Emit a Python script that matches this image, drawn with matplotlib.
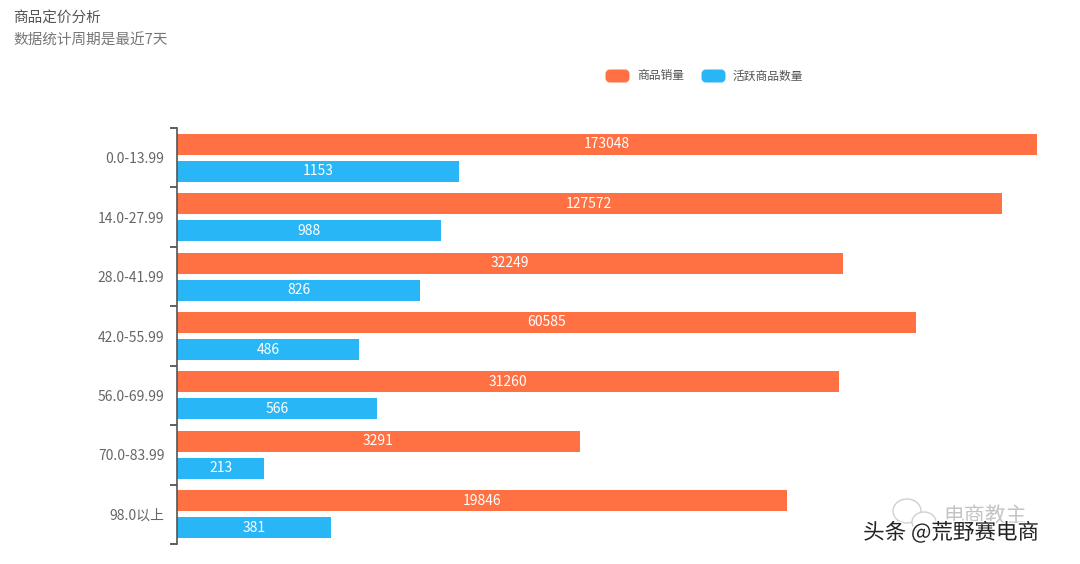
import matplotlib
matplotlib.use("Agg")
import matplotlib.pyplot as plt
import matplotlib.patheffects as pe
from matplotlib.patches import Ellipse, FancyBboxPatch, Polygon
import numpy as np

plt.rcParams['font.family'] = ['Noto Sans CJK SC', 'DejaVu Sans']

# Data
categories = ['0.0-13.99', '14.0-27.99', '28.0-41.99', '42.0-55.99',
              '56.0-69.99', '70.0-83.99', '98.0以上']
sales = [173048, 127572, 32249, 60585, 31260, 3291, 19846]
active = [1153, 988, 826, 486, 566, 213, 381]
series_names = ['商品销量', '活跃商品数量']
colors = ['#FF7043', '#29B6F6']

W, H = 1080, 564
fig = plt.figure(figsize=(W / 100, H / 100), dpi=100)
ax = fig.add_axes([177 / W, 1 - 544 / H, (1062 - 177) / W, (544 - 128) / H])

base = 100
ax.set_xscale('log')
ax.set_xlim(base, base * 10 ** ((1062 - 177) / 265.5))
ax.set_ylim(len(categories), 0)

y = np.arange(len(categories)) + 0.5
bar_h = 21 / 59.4
off = 13.5 / 59.4

for vals, pos, col in [(sales, y - off, colors[0]), (active, y + off, colors[1])]:
    ax.barh(pos, np.array(vals) - base, left=base, height=bar_h, color=col)
    for v, p in zip(vals, pos):
        # centre of the bar on the log scale
        ax.text(np.sqrt(base * v), p, str(v), color='white', fontsize=10,
                ha='center', va='center')

for s in ['top', 'right', 'bottom']:
    ax.spines[s].set_visible(False)
ax.spines['left'].set_color('#555555')
ax.spines['left'].set_linewidth(1.2)

ax.xaxis.set_visible(False)
ax.set_yticks(np.arange(len(categories) + 1))
ax.set_yticklabels([])
ax.tick_params(axis='y', which='major', length=5, width=1.2, color='#444444')
ax.set_yticks(y, minor=True)
ax.set_yticklabels(categories, minor=True, fontsize=10, color='#666666')
ax.tick_params(axis='y', which='minor', length=0, pad=9)

# Title block
fig.text(13 / W, 1 - 19 / H, '商品定价分析', fontsize=10.5, color='#555555', va='center')
fig.text(13 / W, 1 - 41 / H, '数据统计周期是最近7天', fontsize=10.5, color='#777777', va='center')

# Legend and watermark drawn on a pixel overlay
ov = fig.add_axes([0, 0, 1, 1], facecolor='none')
ov.set_xlim(0, W)
ov.set_ylim(H, 0)
ov.axis('off')

for x0, name, col in [(604, series_names[0], colors[0]), (700, series_names[1], colors[1])]:
    ov.add_patch(FancyBboxPatch((x0 + 3, 71), 21, 10, boxstyle='round,pad=0,rounding_size=3',
                                mutation_aspect=1, facecolor=col, edgecolor=col, linewidth=3 * 0.72))
    ov.text(x0 + 33, 76, name, fontsize=8.5, color='#555555', va='center')

# WeChat style logo under the watermark
for cx, cy, rx, ry in [(907, 511, 28, 24), (924, 522, 24, 20)]:
    ov.add_patch(Ellipse((cx, cy), rx, ry, facecolor='white', edgecolor='#d0d0d0', linewidth=1))
ov.add_patch(Polygon([[897, 521], [896, 528], [903, 523]], closed=True,
                     facecolor='white', edgecolor='#d0d0d0', linewidth=0.8))
ov.text(985, 516, '电商教主', fontsize=15, color='#c4c4c4', ha='center', va='center')

ov.text(951, 533, '头条 @荒野赛电商', fontsize=15.5, color='#222222', ha='center', va='center',
        path_effects=[pe.withStroke(linewidth=2, foreground='white')])

fig.savefig('out.png', dpi=100)
